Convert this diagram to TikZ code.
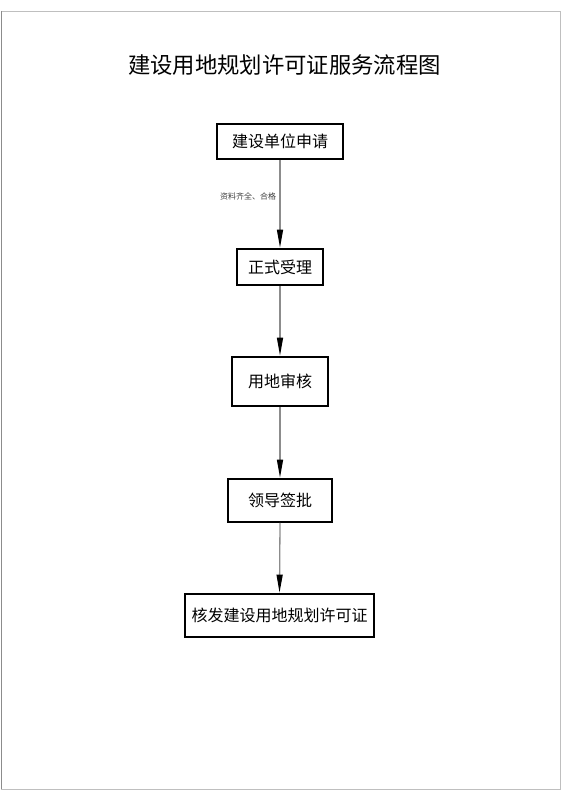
\documentclass[tikz,border=0pt]{standalone}
\usepackage{fontspec}
\setmainfont{Noto Sans CJK SC}
\usetikzlibrary{arrows.meta}
\begin{document}
\begin{tikzpicture}[x=1pt,y=-1pt,
  box/.style={draw=black,line width=1.6pt,fill=white,minimum width=#1,inner sep=0pt,font=\fontsize{16}{18}\selectfont},
  conn/.style={draw=black!45,line width=1.3pt,-{Triangle[length=18pt,width=6pt,color=black]},shorten >=0.5pt},
  lbl/.style={font=\fontsize{8}{9}\selectfont,text=black!75}]
\useasboundingbox (0,0) rectangle (561,800);
\fill[white] (0,0) rectangle (561,800);
\draw[black!25,line width=0.8pt] (1,11) rectangle (560,789);
\draw[black!45,line width=0.8pt] (1,11) -- (1,789);
\node[inner sep=0pt] (title) at (284.5,65) {\resizebox{313pt}{!}{\fontsize{24}{28}\selectfont 建设用地规划许可证服务流程图}};
\node[box=126pt,minimum height=35pt] (b1) at (280,141.5) {建设单位申请};
\node[box=86pt,minimum height=36pt] (b2) at (280,267) {正式受理};
\node[box=96pt,minimum height=49pt] (b3) at (280,381.5) {用地审核};
\node[box=104pt,minimum height=43pt] (b4) at (280,500.5) {领导签批};
\node[box=189pt,minimum height=43pt] (b5) at (279.5,615.5) {核发建设用地规划许可证};
\node[lbl] (l1) at (248,196) {资料齐全、合格};
\draw[conn] (b1.south) -- (b2.north);
\draw[conn] (b2.south) -- (b3.north);
\draw[conn] (b3.south) -- (b4.north);
\draw[conn] (b4.south) -- (b5.north);
\end{tikzpicture}
\end{document}
